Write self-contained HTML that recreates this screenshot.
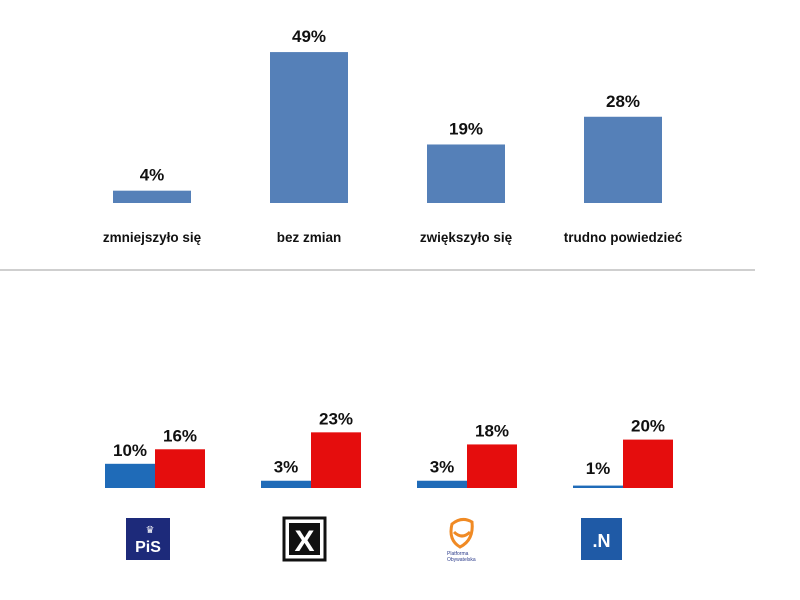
<!DOCTYPE html>
<html><head><meta charset="utf-8"><style>
html,body{margin:0;padding:0;background:#fff;}
svg{display:block;font-family:"Liberation Sans",sans-serif;}
</style></head><body>
<svg width="800" height="600" viewBox="0 0 800 600">
<g id="top"></g>
<line x1="0" y1="270" x2="755" y2="270" stroke="#cfcfcf" stroke-width="2"/>
<g id="bottom"></g>
<g>
<rect x="126" y="518" width="44" height="42" fill="#1d2a7a"/>
<text x="148" y="552" font-size="16" font-weight="bold" fill="#fff" text-anchor="middle">PiS</text>
<text x="150" y="533" font-size="10" fill="#fff" text-anchor="middle">♛</text>
</g>
<g>
<rect x="284" y="518" width="41" height="42" fill="#fff" stroke="#111" stroke-width="3"/>
<rect x="289" y="523" width="31" height="32" fill="#111"/>
<text x="304.5" y="551" font-size="30" font-weight="bold" fill="#fff" text-anchor="middle">X</text>
</g>
<g>
<path d="M452 524 Q462 516 472 522 Q474 540 460 547 Q448 540 452 524 Z" fill="none" stroke="#f08a24" stroke-width="3"/>
<path d="M454 532 Q462 540 470 532" fill="none" stroke="#f08a24" stroke-width="3"/>
<text x="447" y="555" font-size="5" fill="#2a3a8a">Platforma</text>
<text x="447" y="561" font-size="5" fill="#2a3a8a">Obywatelska</text>
</g>
<g>
<rect x="581" y="518" width="41" height="42" fill="#1f5aa6"/>
<text x="601.5" y="547" font-size="18" font-weight="bold" fill="#fff" text-anchor="middle">.N</text>
</g>
</svg>
<script>
const topCats=["zmniejszyło się","bez zmian","zwiększyło się","trudno powiedzieć"];
const topVals=[4,49,19,28];
const botCats=["PiS","Kukiz","PO","Nowoczesna"];
const botBlue=[10,3,3,1];
const botRed=[16,23,18,20];
const NS="http://www.w3.org/2000/svg";
function mk(t,a,p){const e=document.createElementNS(NS,t);for(const k in a)e.setAttribute(k,a[k]);p.appendChild(e);return e;}
const topY=v=>203-v*3.08;
const topX=i=>113+i*157;
const gt=document.getElementById('top');
topVals.forEach((v,i)=>{
 const r=mk('rect',{x:topX(i),y:topY(v),width:78,height:203-topY(v),fill:'#5580b8'},gt);
 
 
 const t=mk('text',{x:topX(i)+39,y:topY(v)-10,'font-size':17,'font-weight':'bold','text-anchor':'middle',fill:'#111'},gt);
 t.textContent=v+'%';
 
 
 const c=mk('text',{x:topX(i)+39,y:242,'font-size':13.5,'font-weight':'bold','text-anchor':'middle',fill:'#111'},gt);
 c.textContent=topCats[i];
 
 
});
const botY=v=>488-v*2.42;
const botX=i=>105+i*156;
const gb=document.getElementById('bottom');
botCats.forEach((c,i)=>{
 const b=mk('rect',{x:botX(i),y:botY(botBlue[i]),width:50,height:488-botY(botBlue[i]),fill:'#1f6bb8'},gb);
 
 
 const r=mk('rect',{x:botX(i)+50,y:botY(botRed[i]),width:50,height:488-botY(botRed[i]),fill:'#e50d0d'},gb);
 
 
 const tb=mk('text',{x:botX(i)+25,y:Math.min(botY(botBlue[i]),482)-8,'font-size':17,'font-weight':'bold','text-anchor':'middle',fill:'#111'},gb);
 tb.textContent=botBlue[i]+'%';
 
 
 const tr=mk('text',{x:botX(i)+75,y:botY(botRed[i])-8,'font-size':17,'font-weight':'bold','text-anchor':'middle',fill:'#111'},gb);
 tr.textContent=botRed[i]+'%';
 
 
});
</script>
</body></html>
